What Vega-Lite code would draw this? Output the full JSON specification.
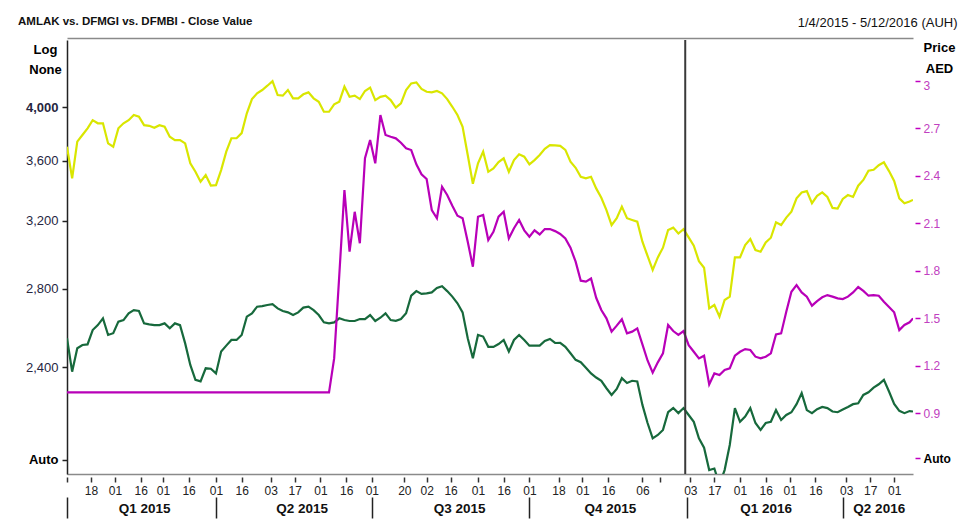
{
  "$schema": "https://vega.github.io/schema/vega-lite/v6.json",
  "width": 846,
  "height": 434,
  "autosize": {"type": "none"},
  "padding": {"left": 67, "top": 40, "right": 48, "bottom": 48},
  "background": "white",
  "config": {
    "view": {"stroke": null},
    "font": "Liberation Sans",
    "axis": {"grid": false, "labelFont": "Liberation Sans", "titleFont": "Liberation Sans"}
  },
  "title": {"text": "AMLAK vs. DFMGI vs. DFMBI - Close Value", "anchor": "start", "frame": "group", "dx": -49, "dy": 24, "offset": 13, "fontSize": 11.5, "fontWeight": "bold", "color": "#111111"},
  "data": {"values": [
    {"d":"2015-01-04","G":3700,"B":2540,"A":1.03},
    {"d":"2015-01-07","G":3477,"B":2378,"A":1.03},
    {"d":"2015-01-10","G":3737,"B":2490,"A":1.03},
    {"d":"2015-01-13","G":3786,"B":2506,"A":1.03},
    {"d":"2015-01-16","G":3836,"B":2509,"A":1.03},
    {"d":"2015-01-19","G":3898,"B":2581,"A":1.03},
    {"d":"2015-01-22","G":3874,"B":2606,"A":1.03},
    {"d":"2015-01-25","G":3874,"B":2641,"A":1.03},
    {"d":"2015-01-28","G":3724,"B":2556,"A":1.03},
    {"d":"2015-01-31","G":3700,"B":2565,"A":1.03},
    {"d":"2015-02-03","G":3836,"B":2624,"A":1.03},
    {"d":"2015-02-06","G":3874,"B":2632,"A":1.03},
    {"d":"2015-02-09","G":3898,"B":2667,"A":1.03},
    {"d":"2015-02-12","G":3938,"B":2684,"A":1.03},
    {"d":"2015-02-15","G":3925,"B":2679,"A":1.03},
    {"d":"2015-02-18","G":3860,"B":2615,"A":1.03},
    {"d":"2015-02-21","G":3855,"B":2610,"A":1.03},
    {"d":"2015-02-24","G":3840,"B":2606,"A":1.03},
    {"d":"2015-02-27","G":3860,"B":2606,"A":1.03},
    {"d":"2015-03-02","G":3848,"B":2615,"A":1.03},
    {"d":"2015-03-05","G":3773,"B":2590,"A":1.03},
    {"d":"2015-03-08","G":3748,"B":2615,"A":1.03},
    {"d":"2015-03-11","G":3748,"B":2606,"A":1.03},
    {"d":"2015-03-14","G":3724,"B":2514,"A":1.03},
    {"d":"2015-03-17","G":3581,"B":2410,"A":1.03},
    {"d":"2015-03-20","G":3522,"B":2340,"A":1.03},
    {"d":"2015-03-23","G":3454,"B":2333,"A":1.03},
    {"d":"2015-03-26","G":3500,"B":2394,"A":1.03},
    {"d":"2015-03-29","G":3428,"B":2392,"A":1.03},
    {"d":"2015-04-01","G":3431,"B":2370,"A":1.03},
    {"d":"2015-04-04","G":3534,"B":2474,"A":1.03},
    {"d":"2015-04-07","G":3664,"B":2503,"A":1.03},
    {"d":"2015-04-10","G":3762,"B":2531,"A":1.03},
    {"d":"2015-04-13","G":3762,"B":2531,"A":1.03},
    {"d":"2015-04-16","G":3800,"B":2556,"A":1.03},
    {"d":"2015-04-19","G":3951,"B":2650,"A":1.03},
    {"d":"2015-04-22","G":4063,"B":2667,"A":1.03},
    {"d":"2015-04-25","G":4109,"B":2702,"A":1.03},
    {"d":"2015-04-28","G":4136,"B":2705,"A":1.03},
    {"d":"2015-05-01","G":4171,"B":2711,"A":1.03},
    {"d":"2015-05-04","G":4209,"B":2715,"A":1.03},
    {"d":"2015-05-07","G":4095,"B":2693,"A":1.03},
    {"d":"2015-05-10","G":4090,"B":2679,"A":1.03},
    {"d":"2015-05-13","G":4136,"B":2672,"A":1.03},
    {"d":"2015-05-16","G":4069,"B":2658,"A":1.03},
    {"d":"2015-05-19","G":4069,"B":2672,"A":1.03},
    {"d":"2015-05-22","G":4101,"B":2697,"A":1.03},
    {"d":"2015-05-25","G":4117,"B":2702,"A":1.03},
    {"d":"2015-05-28","G":4069,"B":2684,"A":1.03},
    {"d":"2015-05-31","G":4042,"B":2658,"A":1.03},
    {"d":"2015-06-03","G":3963,"B":2620,"A":1.03},
    {"d":"2015-06-06","G":3963,"B":2615,"A":1.03},
    {"d":"2015-06-09","G":4021,"B":2620,"A":1.245},
    {"d":"2015-06-12","G":4042,"B":2641,"A":1.772},
    {"d":"2015-06-15","G":4163,"B":2632,"A":2.308},
    {"d":"2015-06-18","G":4081,"B":2627,"A":1.919},
    {"d":"2015-06-21","G":4090,"B":2627,"A":2.171},
    {"d":"2015-06-24","G":4063,"B":2637,"A":1.972},
    {"d":"2015-06-27","G":4128,"B":2637,"A":2.509},
    {"d":"2015-06-30","G":4155,"B":2658,"A":2.624},
    {"d":"2015-07-03","G":4055,"B":2627,"A":2.477},
    {"d":"2015-07-06","G":4081,"B":2644,"A":2.782},
    {"d":"2015-07-09","G":4090,"B":2667,"A":2.656},
    {"d":"2015-07-12","G":4055,"B":2632,"A":2.645},
    {"d":"2015-07-15","G":3995,"B":2628,"A":2.635},
    {"d":"2015-07-18","G":4029,"B":2637,"A":2.607},
    {"d":"2015-07-21","G":4136,"B":2667,"A":2.572},
    {"d":"2015-07-24","G":4190,"B":2761,"A":2.561},
    {"d":"2015-07-27","G":4198,"B":2786,"A":2.471},
    {"d":"2015-07-30","G":4145,"B":2771,"A":2.408},
    {"d":"2015-08-02","G":4122,"B":2774,"A":2.378},
    {"d":"2015-08-05","G":4117,"B":2779,"A":2.182},
    {"d":"2015-08-08","G":4128,"B":2803,"A":2.130},
    {"d":"2015-08-11","G":4109,"B":2813,"A":2.329},
    {"d":"2015-08-14","G":4063,"B":2786,"A":2.277},
    {"d":"2015-08-17","G":4002,"B":2756,"A":2.209},
    {"d":"2015-08-20","G":3938,"B":2720,"A":2.146},
    {"d":"2015-08-23","G":3848,"B":2672,"A":2.130},
    {"d":"2015-08-26","G":3640,"B":2540,"A":1.982},
    {"d":"2015-08-29","G":3440,"B":2442,"A":1.824},
    {"d":"2015-09-01","G":3581,"B":2556,"A":2.140},
    {"d":"2015-09-04","G":3664,"B":2548,"A":2.151},
    {"d":"2015-09-07","G":3522,"B":2497,"A":1.993},
    {"d":"2015-09-10","G":3546,"B":2497,"A":2.045},
    {"d":"2015-09-13","G":3590,"B":2511,"A":2.140},
    {"d":"2015-09-16","G":3617,"B":2531,"A":2.171},
    {"d":"2015-09-19","G":3522,"B":2474,"A":2.003},
    {"d":"2015-09-22","G":3604,"B":2531,"A":2.067},
    {"d":"2015-09-25","G":3645,"B":2556,"A":2.119},
    {"d":"2015-09-28","G":3628,"B":2531,"A":2.054},
    {"d":"2015-10-01","G":3574,"B":2503,"A":2.014},
    {"d":"2015-10-04","G":3604,"B":2503,"A":2.054},
    {"d":"2015-10-07","G":3640,"B":2503,"A":2.028},
    {"d":"2015-10-10","G":3684,"B":2526,"A":2.062},
    {"d":"2015-10-13","G":3711,"B":2536,"A":2.062},
    {"d":"2015-10-16","G":3709,"B":2516,"A":2.049},
    {"d":"2015-10-19","G":3706,"B":2517,"A":2.031},
    {"d":"2015-10-22","G":3677,"B":2497,"A":2.003},
    {"d":"2015-10-25","G":3592,"B":2466,"A":1.944},
    {"d":"2015-10-28","G":3550,"B":2434,"A":1.856},
    {"d":"2015-10-31","G":3488,"B":2423,"A":1.736},
    {"d":"2015-11-03","G":3477,"B":2397,"A":1.730},
    {"d":"2015-11-06","G":3488,"B":2370,"A":1.750},
    {"d":"2015-11-09","G":3409,"B":2351,"A":1.628},
    {"d":"2015-11-12","G":3347,"B":2336,"A":1.551},
    {"d":"2015-11-15","G":3267,"B":2302,"A":1.498},
    {"d":"2015-11-18","G":3172,"B":2272,"A":1.414},
    {"d":"2015-11-21","G":3215,"B":2299,"A":1.452},
    {"d":"2015-11-24","G":3289,"B":2348,"A":1.492},
    {"d":"2015-11-27","G":3215,"B":2326,"A":1.403},
    {"d":"2015-11-30","G":3204,"B":2336,"A":1.414},
    {"d":"2015-12-03","G":3193,"B":2333,"A":1.435},
    {"d":"2015-12-06","G":3070,"B":2228,"A":1.334},
    {"d":"2015-12-09","G":2985,"B":2150,"A":1.232},
    {"d":"2015-12-12","G":2904,"B":2086,"A":1.155},
    {"d":"2015-12-15","G":2977,"B":2100,"A":1.220},
    {"d":"2015-12-18","G":3034,"B":2121,"A":1.277},
    {"d":"2015-12-21","G":3141,"B":2196,"A":1.456},
    {"d":"2015-12-24","G":3156,"B":2214,"A":1.418},
    {"d":"2015-12-27","G":3120,"B":2192,"A":1.393},
    {"d":"2015-12-30","G":3147,"B":2214,"A":1.418},
    {"d":"2016-01-02","G":3096,"B":2184,"A":1.329},
    {"d":"2016-01-05","G":3046,"B":2155,"A":1.287},
    {"d":"2016-01-08","G":2955,"B":2086,"A":1.245},
    {"d":"2016-01-11","G":2917,"B":2048,"A":1.262},
    {"d":"2016-01-14","G":2693,"B":1960,"A":1.081},
    {"d":"2016-01-17","G":2711,"B":1966,"A":1.150},
    {"d":"2016-01-20","G":2650,"B":1905,"A":1.140},
    {"d":"2016-01-23","G":2738,"B":1960,"A":1.172},
    {"d":"2016-01-26","G":2756,"B":2059,"A":1.182},
    {"d":"2016-01-29","G":2977,"B":2214,"A":1.262},
    {"d":"2016-02-01","G":2977,"B":2155,"A":1.287},
    {"d":"2016-02-04","G":3050,"B":2177,"A":1.304},
    {"d":"2016-02-07","G":3086,"B":2214,"A":1.298},
    {"d":"2016-02-10","G":3020,"B":2150,"A":1.256},
    {"d":"2016-02-13","G":3010,"B":2121,"A":1.245},
    {"d":"2016-02-16","G":3066,"B":2150,"A":1.256},
    {"d":"2016-02-19","G":3094,"B":2155,"A":1.277},
    {"d":"2016-02-22","G":3189,"B":2205,"A":1.397},
    {"d":"2016-02-25","G":3172,"B":2163,"A":1.403},
    {"d":"2016-02-28","G":3219,"B":2184,"A":1.540},
    {"d":"2016-03-02","G":3256,"B":2196,"A":1.666},
    {"d":"2016-03-05","G":3343,"B":2231,"A":1.708},
    {"d":"2016-03-08","G":3382,"B":2280,"A":1.662},
    {"d":"2016-03-11","G":3391,"B":2205,"A":1.635},
    {"d":"2016-03-14","G":3311,"B":2192,"A":1.578},
    {"d":"2016-03-17","G":3359,"B":2209,"A":1.607},
    {"d":"2016-03-20","G":3382,"B":2219,"A":1.631},
    {"d":"2016-03-23","G":3352,"B":2214,"A":1.645},
    {"d":"2016-03-26","G":3281,"B":2199,"A":1.635},
    {"d":"2016-03-29","G":3277,"B":2196,"A":1.624},
    {"d":"2016-04-01","G":3339,"B":2208,"A":1.620},
    {"d":"2016-04-04","G":3365,"B":2219,"A":1.635},
    {"d":"2016-04-07","G":3352,"B":2231,"A":1.662},
    {"d":"2016-04-10","G":3427,"B":2235,"A":1.696},
    {"d":"2016-04-13","G":3466,"B":2272,"A":1.671},
    {"d":"2016-04-16","G":3529,"B":2284,"A":1.641},
    {"d":"2016-04-19","G":3536,"B":2305,"A":1.645},
    {"d":"2016-04-22","G":3568,"B":2320,"A":1.641},
    {"d":"2016-04-25","G":3588,"B":2340,"A":1.603},
    {"d":"2016-04-28","G":3527,"B":2287,"A":1.570},
    {"d":"2016-05-01","G":3459,"B":2232,"A":1.536},
    {"d":"2016-05-04","G":3343,"B":2202,"A":1.424},
    {"d":"2016-05-07","G":3311,"B":2192,"A":1.456},
    {"d":"2016-05-10","G":3322,"B":2201,"A":1.473},
    {"d":"2016-05-12","G":3333,"B":2199,"A":1.498}
  ]},
  "layer": [
    {
      "layer": [
        {
          "mark": {"type": "line", "color": "#d9e600", "strokeWidth": 2.2, "clip": true},
          "encoding": {
            "x": {"field": "d", "type": "temporal",
              "scale": {"type": "utc", "nice": false, "domain": [{"year": 2015, "month": 1, "date": 4, "utc": true}, {"year": 2016, "month": 5, "date": 12, "utc": true}]},
              "axis": {
                "orient": "bottom", "offset": 3, "domain": false, "grid": false,
                "values": [
                  {"year": 2015, "month": 1, "date": 4, "utc": true},
                  {"year": 2015, "month": 1, "date": 18, "utc": true},
                  {"year": 2015, "month": 2, "date": 1, "utc": true},
                  {"year": 2015, "month": 2, "date": 16, "utc": true},
                  {"year": 2015, "month": 3, "date": 1, "utc": true},
                  {"year": 2015, "month": 3, "date": 16, "utc": true},
                  {"year": 2015, "month": 4, "date": 1, "utc": true},
                  {"year": 2015, "month": 4, "date": 16, "utc": true},
                  {"year": 2015, "month": 5, "date": 3, "utc": true},
                  {"year": 2015, "month": 5, "date": 17, "utc": true},
                  {"year": 2015, "month": 6, "date": 1, "utc": true},
                  {"year": 2015, "month": 6, "date": 16, "utc": true},
                  {"year": 2015, "month": 7, "date": 1, "utc": true},
                  {"year": 2015, "month": 7, "date": 20, "utc": true},
                  {"year": 2015, "month": 8, "date": 2, "utc": true},
                  {"year": 2015, "month": 8, "date": 16, "utc": true},
                  {"year": 2015, "month": 9, "date": 1, "utc": true},
                  {"year": 2015, "month": 9, "date": 16, "utc": true},
                  {"year": 2015, "month": 10, "date": 1, "utc": true},
                  {"year": 2015, "month": 10, "date": 18, "utc": true},
                  {"year": 2015, "month": 11, "date": 1, "utc": true},
                  {"year": 2015, "month": 11, "date": 16, "utc": true},
                  {"year": 2015, "month": 12, "date": 6, "utc": true},
                  {"year": 2015, "month": 12, "date": 16, "utc": true},
                  {"year": 2016, "month": 1, "date": 3, "utc": true},
                  {"year": 2016, "month": 1, "date": 17, "utc": true},
                  {"year": 2016, "month": 2, "date": 1, "utc": true},
                  {"year": 2016, "month": 2, "date": 16, "utc": true},
                  {"year": 2016, "month": 3, "date": 1, "utc": true},
                  {"year": 2016, "month": 3, "date": 16, "utc": true},
                  {"year": 2016, "month": 4, "date": 3, "utc": true},
                  {"year": 2016, "month": 4, "date": 17, "utc": true},
                  {"year": 2016, "month": 5, "date": 1, "utc": true}
                ],
                "labelExpr": "(utcdate(datum.value) == 4 || (utcmonth(datum.value) == 11 && utcdate(datum.value) == 16)) ? '' : utcFormat(datum.value, '%d')",
                "tickSize": 5, "tickColor": "#333333", "tickWidth": 1.5,
                "labelPadding": 3, "labelFontSize": 12, "labelColor": "#222222",
                "labelOverlap": false, "labelFlush": false, "title": null
              }
            },
            "y": {"field": "G", "type": "quantitative",
              "scale": {"type": "log", "domain": [1945, 4563], "nice": false},
              "axis": {
                "orient": "left", "grid": false,
                "values": [2000, 2400, 2800, 3200, 3600, 4000],
                "labelExpr": "datum.value == 2000 ? 'Auto' : format(datum.value, ',')",
                "domain": true, "domainColor": "#222222", "domainWidth": 1.5,
                "tickSize": 5, "tickColor": "#222222", "tickWidth": 1.5,
                "labelPadding": 4, "labelFontSize": 13,
                "labelColor": {"condition": {"test": "datum.value == 2000", "value": "#000000"}, "value": "#26263f"},
                "labelFontWeight": {"condition": {"test": "datum.value == 2000 || datum.value == 4000", "value": "bold"}, "value": "normal"},
                "title": ["Log", "None"], "titleAngle": 0, "titleAlign": "center", "titleBaseline": "alphabetic",
                "titleX": -22, "titleY": 13, "titleFontSize": 13, "titleFontWeight": "bold", "titleColor": "#000000", "titleLineHeight": 20
              }
            }
          }
        },
        {
          "mark": {"type": "line", "color": "#17693c", "strokeWidth": 2.2, "clip": true},
          "encoding": {
            "x": {"field": "d", "type": "temporal",
              "scale": {"type": "utc", "nice": false, "domain": [{"year": 2015, "month": 1, "date": 4, "utc": true}, {"year": 2016, "month": 5, "date": 12, "utc": true}]},
              "axis": {"orient": "top", "offset": 2, "domain": true, "domainColor": "#8a8a8a", "domainWidth": 1.5, "ticks": false, "labels": false, "grid": false, "title": null}
            },
            "y": {"field": "B", "type": "quantitative"}
          }
        }
      ],
      "resolve": {"axis": {"x": "independent"}}
    },
    {
      "mark": {"type": "line", "color": "#b800b8", "strokeWidth": 2.2, "clip": true},
      "encoding": {
        "x": {"field": "d", "type": "temporal",
          "scale": {"type": "utc", "nice": false, "domain": [{"year": 2015, "month": 1, "date": 4, "utc": true}, {"year": 2016, "month": 5, "date": 12, "utc": true}]},
          "axis": {
            "orient": "bottom", "offset": 23, "labels": false, "domain": false, "grid": false,
            "values": [
              {"year": 2015, "month": 1, "date": 4, "utc": true},
              {"year": 2015, "month": 4, "date": 1, "utc": true},
              {"year": 2015, "month": 7, "date": 1, "utc": true},
              {"year": 2015, "month": 10, "date": 1, "utc": true},
              {"year": 2016, "month": 1, "date": 1, "utc": true},
              {"year": 2016, "month": 4, "date": 1, "utc": true}
            ],
            "tickSize": 21, "tickColor": "#222222", "tickWidth": 1.5, "title": null
          }
        },
        "y": {"field": "A", "type": "quantitative",
          "scale": {"domain": [0.515, 3.256], "nice": false, "zero": false},
          "axis": {
            "orient": "right", "offset": 2, "grid": false,
            "values": [0.615, 0.9, 1.2, 1.5, 1.8, 2.1, 2.4, 2.7, 3],
            "labelExpr": "datum.value < 0.7 ? 'Auto' : '' + datum.value",
            "domain": false, "tickSize": 5, "tickColor": "#c000c0", "tickWidth": 1.5,
            "labelPadding": 3, "labelFontSize": 12,
            "labelBaseline": {"condition": {"test": "datum.value == 3", "value": "top"}, "value": "middle"},
            "labelColor": {"condition": {"test": "datum.value < 0.7", "value": "#000000"}, "value": "#c040c0"},
            "labelFontWeight": {"condition": {"test": "datum.value < 0.7", "value": "bold"}, "value": "normal"},
            "title": ["Price", "AED"], "titleAngle": 0, "titleAlign": "center", "titleBaseline": "alphabetic",
            "titleX": 24, "titleY": 11, "titleFontSize": 13, "titleFontWeight": "bold", "titleColor": "#000000", "titleLineHeight": 21
          }
        }
      }
    },
    {
      "data": {"values": [{"t": "2015-12-31"}]},
      "mark": {"type": "rule", "color": "#3a3a3a", "strokeWidth": 2},
      "encoding": {
        "x": {"field": "t", "type": "temporal",
          "scale": {"type": "utc", "nice": false, "domain": [{"year": 2015, "month": 1, "date": 4, "utc": true}, {"year": 2016, "month": 5, "date": 12, "utc": true}]},
          "axis": {
            "orient": "bottom", "grid": false,
            "values": [
              {"year": 2015, "month": 2, "date": 18, "utc": true},
              {"year": 2015, "month": 5, "date": 21, "utc": true},
              {"year": 2015, "month": 8, "date": 21, "utc": true},
              {"year": 2015, "month": 11, "date": 17, "utc": true},
              {"year": 2016, "month": 2, "date": 16, "utc": true},
              {"year": 2016, "month": 4, "date": 22, "utc": true}
            ],
            "labelExpr": "'Q' + utcquarter(datum.value) + ' ' + utcyear(datum.value)",
            "ticks": false, "domain": true, "domainColor": "#8a8a8a", "domainWidth": 1.5,
            "labelPadding": 27, "labelFontSize": 13.5, "labelFontWeight": "bold", "labelColor": "#111111",
            "labelOverlap": false, "labelFlush": false, "title": null
          }
        },
        "y": {"datum": 0, "type": "quantitative", "scale": {"domain": [0, 1], "nice": false},
          "axis": {
            "orient": "right", "domain": false, "ticks": false, "labels": false, "grid": false,
            "title": "1/4/2015 - 5/12/2016 (AUH)", "titleAngle": 0, "titleAlign": "right", "titleBaseline": "alphabetic",
            "titleX": 44, "titleY": -14, "titleFontWeight": "normal", "titleFontSize": 13, "titleColor": "#111111"
          }
        },
        "y2": {"datum": 1}
      }
    }
  ],
  "resolve": {"scale": {"y": "independent"}, "axis": {"x": "independent", "y": "independent"}}
}
